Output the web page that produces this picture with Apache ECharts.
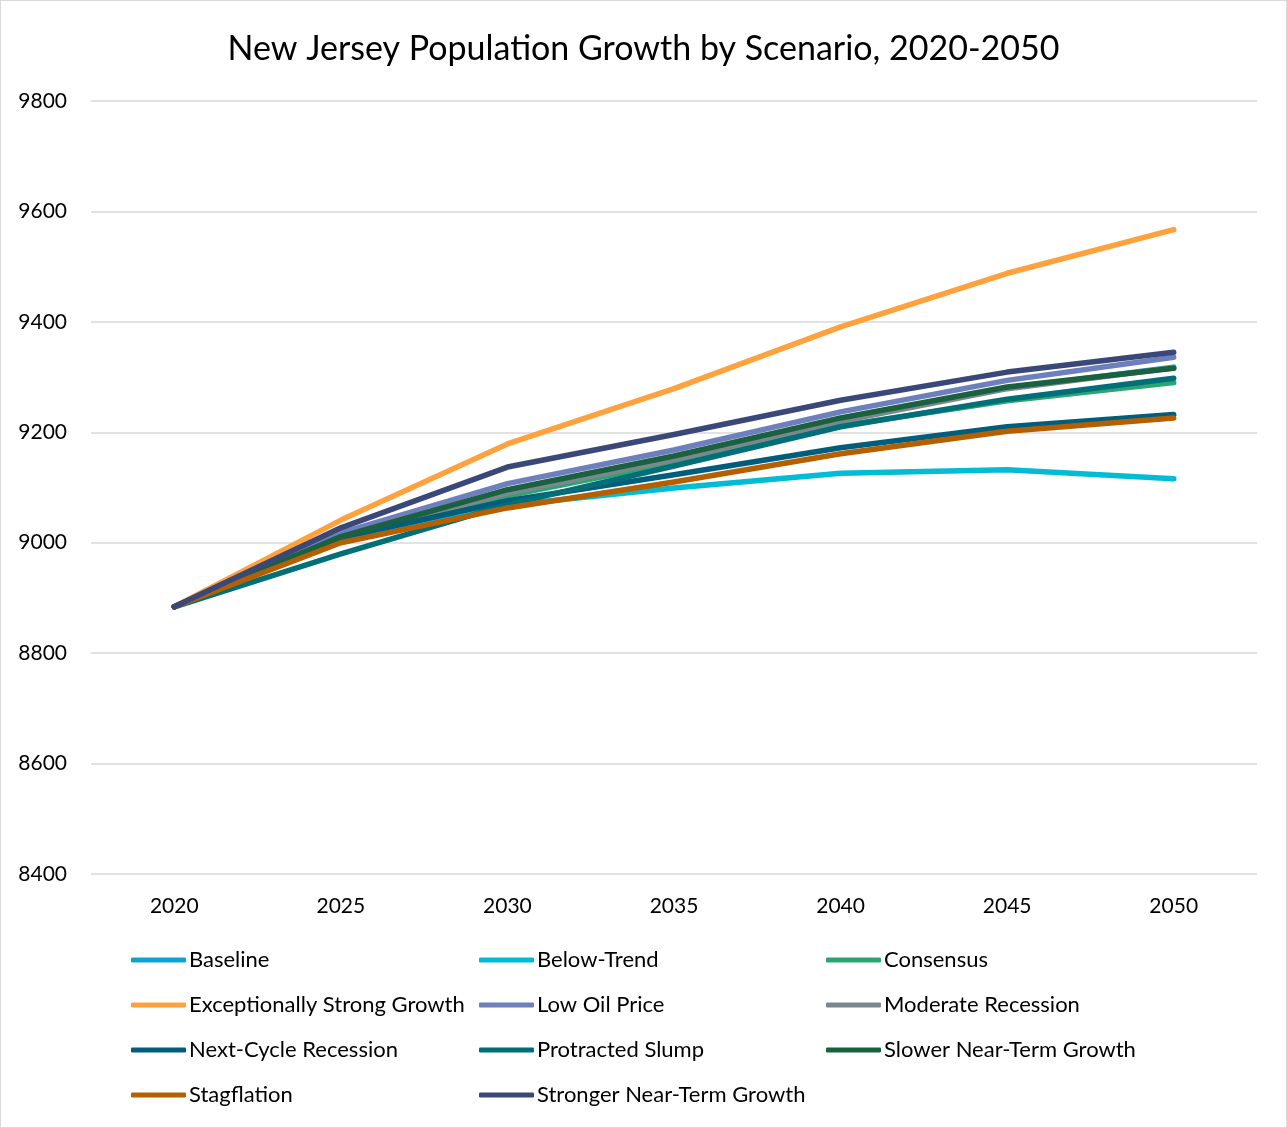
<!DOCTYPE html>
<html>
<head>
<meta charset="utf-8">
<script src="https://cdn.jsdelivr.net/npm/echarts@6/dist/echarts.min.js"></script>
<style>
html,body{margin:0;padding:0;background:#fff;}
#chart{width:1285px;height:1126px;border:1px solid #d9d9d9;}
</style>
</head>
<body>
<div id="chart"></div>
<script>
const years = ['2020','2025','2030','2035','2040','2045','2050'];
const yTicks = [8400, 8600, 8800, 9000, 9200, 9400, 9600, 9800];

const baseline            = [8884, 9010, 9093, 9153, 9222, 9280, 9318];
const belowTrend          = [8884, 9003, 9068, 9099, 9126, 9132, 9116];
const consensus           = [8884, 9008, 9085, 9145, 9212, 9257, 9290];
const exceptionallyStrong = [8884, 9041, 9179, 9279, 9391, 9488, 9567];
const lowOilPrice         = [8884, 9018, 9107, 9168, 9237, 9294, 9336];
const moderateRecession   = [8884, 9009, 9090, 9150, 9220, 9279, 9317];
const nextCycleRecession  = [8884, 9009, 9076, 9123, 9172, 9210, 9232];
const protractedSlump     = [8884, 8980, 9069, 9139, 9210, 9260, 9298];
const slowerNearTerm      = [8884, 9011, 9096, 9157, 9226, 9282, 9316];
const stagflation         = [8884, 9000, 9063, 9110, 9161, 9202, 9226];
const strongerNearTerm    = [8884, 9027, 9137, 9196, 9258, 9309, 9345];

const seriesDefs = [
  ['Baseline', baseline, '#0fa3d3'],
  ['Below-Trend', belowTrend, '#00bcd4'],
  ['Consensus', consensus, '#2ba672'],
  ['Exceptionally Strong Growth', exceptionallyStrong, '#ffa23e'],
  ['Low Oil Price', lowOilPrice, '#6e7fbd'],
  ['Moderate Recession', moderateRecession, '#7c878d'],
  ['Next-Cycle Recession', nextCycleRecession, '#005e7c'],
  ['Protracted Slump', protractedSlump, '#006f77'],
  ['Slower Near-Term Growth', slowerNearTerm, '#19613f'],
  ['Stagflation', stagflation, '#b65f00'],
  ['Stronger Near-Term Growth', strongerNearTerm, '#3a4879']
];

const FONT = 'Lato';
const chart = echarts.init(document.getElementById('chart'));

function legendCol(idx, left) {
  return {
    orient: 'vertical',
    left: left,
    top: 947,
    itemWidth: 55,
    itemHeight: 5,
    itemGap: 21,
    icon: 'roundRect',
    padding: 0,
    selectedMode: false,
    textStyle: {fontFamily: FONT, fontSize: 22, color: '#000', lineHeight: 24, padding: [0,0,0,-2]},
    data: idx.map(i => seriesDefs[i][0])
  };
}

chart.setOption({
  animation: false,
  title: {
    text: 'New Jersey Population Growth by Scenario, 2020-2050',
    left: 'center',
    top: 26,
    textStyle: {fontFamily: FONT, fontSize: 34, fontWeight: 'normal', color: '#000'}
  },
  legend: [
    legendCol([0,3,6,9], 130),
    legendCol([1,4,7,10], 478),
    legendCol([2,5,8], 825)
  ],
  grid: {left: 90, right: 29, top: 100, bottom: 253, containLabel: false},
  xAxis: {
    type: 'category',
    data: years,
    boundaryGap: true,
    axisLine: {show: false},
    axisTick: {show: false},
    axisLabel: {fontFamily: FONT, fontSize: 21, color: '#000', margin: 22}
  },
  yAxis: {
    type: 'value',
    min: yTicks[0],
    max: yTicks[yTicks.length-1],
    interval: 200,
    axisLine: {show: false},
    axisTick: {show: false},
    splitLine: {lineStyle: {color: '#d9d9d9', width: 1.5}},
    axisLabel: {fontFamily: FONT, fontSize: 21, color: '#000', margin: 24, formatter: v => String(v)}
  },
  series: seriesDefs.map(([name, data, color]) => ({
    name, type: 'line', data,
    symbol: 'none',
    itemStyle: {color},
    lineStyle: {color, width: 5.5, cap: 'round', join: 'round'}
  }))
});
</script>
</body>
</html>
